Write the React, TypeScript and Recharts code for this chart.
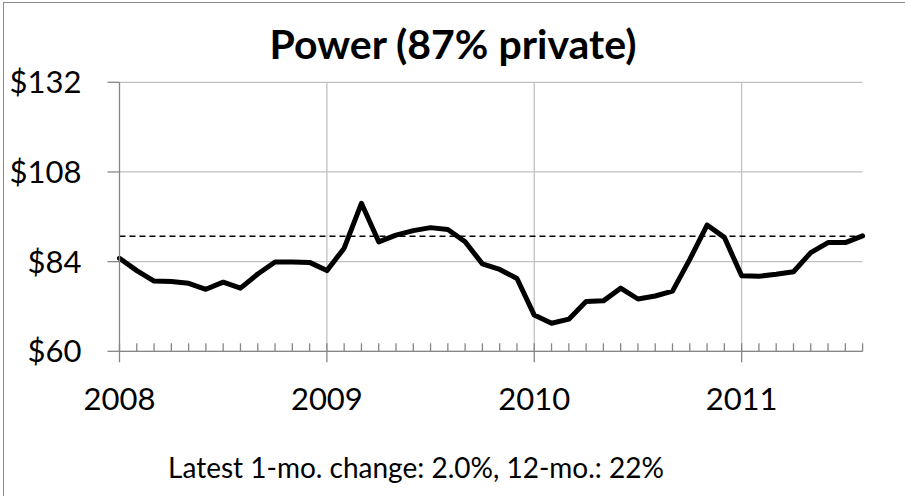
import { LineChart, Line, XAxis, YAxis, CartesianGrid, ReferenceLine } from 'recharts'

const yearLabels = ['2008', '2009', '2010', '2011']
const priceTicks = [60, 84, 108, 132]

// monthly values, Jan 2008 .. Aug 2011
const powerValues = [
  84.9, 81.6, 78.8, 78.7, 78.2, 76.6, 78.5, 76.9, 80.7, 83.9, 83.9, 83.8,
  81.6, 87.6, 99.6, 89.3, 91.1, 92.3, 93.1, 92.6, 89.3, 83.4, 81.9, 79.5,
  69.7, 67.5, 68.6, 73.3, 73.5, 76.9, 74.0, 74.8, 76.1, 84.6, 93.8, 90.5,
  80.2, 80.1, 80.6, 81.3, 86.4, 89.1, 89.1, 90.9
]
const latestLevel = 90.8

const chartTitle = 'Power (87% private)'
const footnote = 'Latest 1-mo. change: 2.0%, 12-mo.: 22%'

const font = 'Lato, Carlito, Calibri, sans-serif'
const axisGray = '#868686'
const gridGray = '#c0c0c0'

const data = powerValues.map((value, month) => ({ month, value }))
const monthTicks = powerValues.map((_, i) => i)

function MonthTick(props: any) {
  const { x, y, payload } = props
  const m = payload.value as number
  const isYear = m % 12 === 0
  return (
    <g>
      <line x1={x} x2={x} y1={y - 8} y2={isYear ? y + 11 : y} stroke={axisGray} strokeWidth={1.3} />
      {isYear && (
        <text x={x} y={y + 59} textAnchor="middle" fontSize={31} fontFamily={font} fill="#000">
          {yearLabels[m / 12]}
        </text>
      )}
    </g>
  )
}

export default function App() {
  return (
    <div style={{ position: 'absolute', left: 0, top: 0, width: 905, height: 496, overflow: 'hidden', background: '#fff' }}>
      {/* frame of the original chart object */}
      <div style={{ position: 'absolute', left: 3, top: 2, width: 950, height: 550, border: '1.5px solid #8a8a8a' }} />

      <div style={{ position: 'absolute', left: 0, width: 906, top: 22.6, textAlign: 'center', fontFamily: font, fontWeight: 700, fontSize: 41, lineHeight: 1 }}>
        {chartTitle}
      </div>

      <div style={{ position: 'absolute', left: 0, top: 0 }}>
        <LineChart width={905} height={496} data={data} margin={{ top: 82.3, right: 42.4, left: 19.5, bottom: 104.7 }}>
          <CartesianGrid vertical={false} stroke={gridGray} strokeWidth={1.3} />
          {[12, 24, 36].map((m) => (
            <ReferenceLine key={m} x={m} stroke={gridGray} strokeWidth={1.3} />
          ))}
          <XAxis
            dataKey="month"
            type="number"
            domain={[0, 43]}
            ticks={monthTicks}
            interval={0}
            height={40}
            tickSize={0}
            tickMargin={0}
            tickLine={false}
            axisLine={{ stroke: axisGray, strokeWidth: 1.3 }}
            tick={<MonthTick />}
          />
          <YAxis
            domain={[60, 132]}
            ticks={priceTicks}
            width={100}
            tickSize={12}
            tickMargin={26}
            interval={0}
            tickFormatter={(v) => `$${v}`}
            tick={{ fill: '#000', fontSize: 31, fontFamily: font }}
            tickLine={{ stroke: axisGray, strokeWidth: 1.3 }}
            axisLine={{ stroke: axisGray, strokeWidth: 1.3 }}
          />
          <ReferenceLine y={latestLevel} stroke="#000" strokeWidth={1.5} strokeDasharray="6 4" />
          <Line
            type="linear"
            dataKey="value"
            stroke="#000"
            strokeWidth={5}
            strokeLinejoin="round"
            strokeLinecap="round"
            dot={false}
            isAnimationActive={false}
          />
        </LineChart>
      </div>

      <div style={{ position: 'absolute', left: 0, width: 832, top: 453, textAlign: 'center', fontFamily: font, fontSize: 28, lineHeight: 1 }}>
        {footnote}
      </div>
    </div>
  )
}
